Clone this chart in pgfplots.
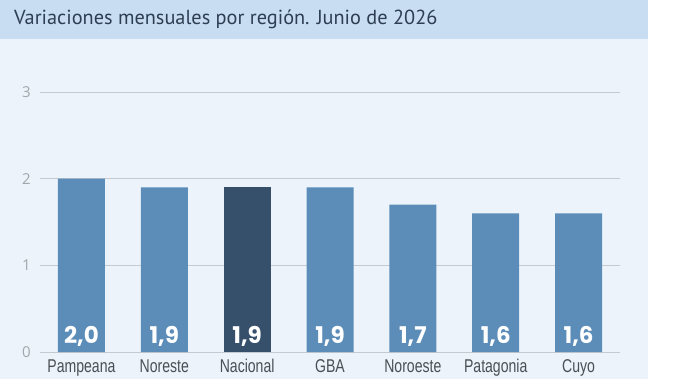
\documentclass[border=0pt]{standalone}
\usepackage{fontspec}
\setmainfont{Liberation Sans}
\newfontfamily\titlefont{PT Sans}
\newfontfamily\narrowfont[FakeStretch=0.76]{Liberation Sans}
\newfontfamily\valfont{Poppins}
\newfontfamily\tickfont{Open Sans}
\usepackage{pgfplots}
\pgfplotsset{compat=1.18}
\definecolor{band}{HTML}{C8DDF1}
\definecolor{panel}{HTML}{EDF3FA}
\definecolor{barc}{HTML}{5C8DB9}
\definecolor{nac}{HTML}{36506C}
\definecolor{gridc}{HTML}{C5CACF}
\definecolor{titlec}{HTML}{2E3E52}
\definecolor{tickc}{HTML}{A3A7AB}
\definecolor{labc}{HTML}{4A4F55}
\begin{document}
\begin{tikzpicture}[x=1bp,y=1bp]
\useasboundingbox (0,0) rectangle (692,379);
\fill[panel] (0,0) rectangle (648,340);
\fill[band] (0,340) rectangle (648,379);
\node[anchor=base west, inner sep=0pt, text=titlec, font=\titlefont\fontsize{20.3bp}{24bp}\selectfont] at (14,355) {Variaciones mensuales por región. Junio de 2026};
\begin{axis}[
  at={(40bp,27bp)}, anchor=south west,
  scale only axis, width=580bp, height=260bp,
  xmin=-0.5, xmax=6.5, ymin=0, ymax=3,
  axis line style={draw=none},
  major tick length=0pt,
  ytick={0,1,2,3},
  ymajorgrids, grid style={gridc, line width=0.9bp},
  xtick={0,1,2,3,4,5,6},
  xticklabels={Pampeana,Noreste,Nacional,GBA,Noroeste,Patagonia,Cuyo},
  xticklabel style={anchor=base, yshift=-20bp, text=labc, font=\narrowfont\fontsize{18.5bp}{22bp}\selectfont},
  yticklabel style={anchor=east, inner sep=0pt, xshift=-9bp, text=tickc, font=\tickfont\fontsize{15bp}{18bp}\selectfont},
  /pgf/number format/assume math mode=true,
  clip=false,
]
\addplot[ybar, bar width=47bp, bar shift=0pt, fill=barc, draw=none] coordinates {(0,2.0) (1,1.9) (3,1.9) (4,1.7) (5,1.6) (6,1.6)};
\addplot[ybar, bar width=47bp, bar shift=0pt, fill=nac, draw=none] coordinates {(2,1.9)};
\addplot[draw=none, mark=none, nodes near coords, point meta=explicit symbolic,
  every node near coord/.append style={anchor=base, inner sep=0pt, yshift=9bp, text=white, font=\valfont\bfseries\fontsize{23bp}{26bp}\selectfont}]
  table[meta=lab] {
x y lab
0 0 2,0
1 0 1,9
2 0 1,9
3 0 1,9
4 0 1,7
5 0 1,6
6 0 1,6
};
\end{axis}
\end{tikzpicture}
\end{document}
